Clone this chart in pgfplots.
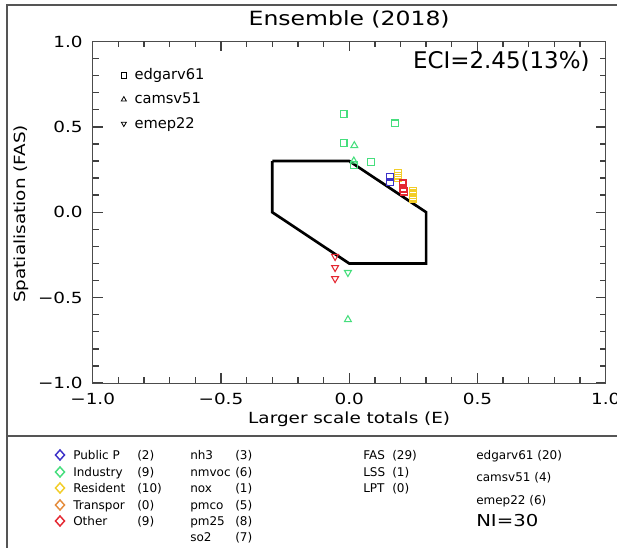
\documentclass[border=0pt]{standalone}
\usepackage{fontspec}
\setmainfont{DejaVu Sans}[FakeStretch=1.2]
\newfontfamily\plainfont{DejaVu Sans}
\usepackage{pgfplots}
\pgfplotsset{compat=1.18}
\definecolor{cgreen}{RGB}{70,222,125}
\definecolor{cblue}{RGB}{60,50,200}
\definecolor{cyellow}{RGB}{242,205,40}
\definecolor{corange}{RGB}{228,140,60}
\definecolor{cred}{RGB}{228,40,50}
\definecolor{frm}{RGB}{85,85,85}
\tikzset{tk/.style={draw=black!75, line width=1pt}}
\begin{document}
\begin{tikzpicture}
\path[use as bounding box] (0pt,0pt) rectangle (462.75pt,411pt);
\begin{axis}[
  at={(69.525pt,123.75pt)}, anchor=south west,
  scale only axis, width=384.75pt, height=256.125pt,
  xmin=-1, xmax=1, ymin=-1, ymax=1,
  xtick={-1,-0.5,0,0.5,1}, xticklabels={−1.0,−0.5,0.0,0.5,1.0},
  ytick={-1,-0.5,0,0.5,1}, yticklabels={−1.0,−0.5,0.0,0.5,1.0},
  minor tick num=4,
  xtick pos=both, ytick pos=both, tick align=inside,
  major tick length=7.5pt, minor tick length=4.5pt,
  tick style={black!75, line width=1pt},
  minor tick style={black!75, line width=1pt},
  axis line style={black!70, line width=0.6pt},
  tick label style={font=\fontsize{11.5}{13}\selectfont},
  xticklabel style={anchor=base, inner sep=0pt, yshift=-16.5pt},
  yticklabel style={anchor=east, inner sep=0pt, xshift=-7.3pt},
  title={Ensemble (2018)},
  title style={at={(0.5,1)}, anchor=base, yshift=6.2pt, font=\fontsize{14.7}{17}\selectfont},
  xlabel={Larger scale totals (E)},
  xlabel style={at={(axis description cs:0.5,-0.105)}, anchor=center, font=\fontsize{11.5}{13}\selectfont},
  ylabel={Spatialisation (FAS)},
  ylabel style={at={(axis description cs:-0.14,0.495)}, anchor=center, rotate=0, font=\fontsize{11.5}{13}\selectfont},
  legend style={draw=none, fill=none, at={(0.055,0.925)}, anchor=north west,
    font=\plainfont\fontsize{11}{13}\selectfont, row sep=6.5pt, inner sep=0pt,
    column sep=5pt, nodes={inner sep=1pt}},
  legend cell align=left,
  clip=false,
]
\addlegendimage{only marks, mark=square, black, mark size=2pt, mark options={line width=0.6pt}, legend image code/.code={\draw[only marks, mark=square, mark size=2pt, line width=0.6pt] plot coordinates {(0.1cm,0cm)};}}
\addlegendentry{edgarv61}
\addlegendimage{only marks, mark=triangle, black, legend image code/.code={\draw[only marks, mark=triangle, mark size=2.2pt, line width=0.6pt] plot coordinates {(0.1cm,0cm)};}}
\addlegendentry{camsv51}
\addlegendimage{only marks, mark=triangle, black, legend image code/.code={\draw[only marks, mark=triangle, mark size=2.2pt, line width=0.6pt, mark options={rotate=180}] plot coordinates {(0.1cm,0cm)};}}
\addlegendentry{emep22}
% tick marks drawn explicitly as well (minor every 0.1, major every 0.5)
\pgfplotsinvokeforeach{-0.9,-0.8,-0.7,-0.6,-0.4,-0.3,-0.2,-0.1,0.1,0.2,0.3,0.4,0.6,0.7,0.8,0.9}{
  \draw[tk] (axis cs:#1,-1) -- ++(0pt,4.5pt);
  \draw[tk] (axis cs:#1,1) -- ++(0pt,-4.5pt);
  \draw[tk] (axis cs:-1,#1) -- ++(4.5pt,0pt);
  \draw[tk] (axis cs:1,#1) -- ++(-4.5pt,0pt);
}
\pgfplotsinvokeforeach{-0.5,0,0.5}{
  \draw[tk] (axis cs:#1,-1) -- ++(0pt,7.5pt);
  \draw[tk] (axis cs:#1,1) -- ++(0pt,-7.5pt);
  \draw[tk] (axis cs:-1,#1) -- ++(7.5pt,0pt);
  \draw[tk] (axis cs:1,#1) -- ++(-7.5pt,0pt);
}
% Industry (green)
\addplot[only marks, mark=square, cgreen, mark size=2.6pt, mark options={line width=0.8pt}, forget plot]
  coordinates {(-0.022,0.574) (0.178,0.52) (-0.022,0.407) (0.085,0.296) (0.018,0.276)};
\addplot[only marks, mark=triangle, cgreen, mark size=3pt, mark options={line width=0.8pt}, forget plot]
  coordinates {(0.02,0.39) (0.018,0.30) (-0.005,-0.629)};
\addplot[only marks, mark=triangle, cgreen, mark size=3pt, mark options={line width=0.8pt, rotate=180}, forget plot]
  coordinates {(-0.005,-0.353)};
% Public Power (blue)
\addplot[only marks, mark=square, cblue, mark size=2.6pt, mark options={line width=0.8pt}, forget plot]
  coordinates {(0.158,0.209) (0.158,0.178)};
% Residential (yellow)
\addplot[only marks, mark=square, cyellow, mark size=2.6pt, mark options={line width=0.8pt}, forget plot]
  coordinates {(0.19,0.229) (0.19,0.20) (0.19,0.215) (0.25,0.126) (0.25,0.099) (0.25,0.079) (0.25,0.11) (0.25,0.09) (0.19,0.21) (0.25,0.085)};
% Other (red)
\addplot[only marks, mark=square, cred, mark size=2.6pt, mark options={line width=0.8pt}, forget plot]
  coordinates {(0.208,0.173) (0.21,0.134) (0.213,0.12) (0.208,0.165) (0.21,0.14) (0.212,0.125)};
\addplot[only marks, mark=triangle, cred, mark size=3pt, mark options={line width=0.8pt, rotate=180}, forget plot]
  coordinates {(-0.055,-0.259) (-0.055,-0.324) (-0.055,-0.389)};
% target polygon
\addplot[black, line width=2pt, line join=miter, no markers, forget plot]
  coordinates {(-0.3,0.3) (0,0.3) (0.3,0) (0.3,-0.3) (0,-0.3) (-0.3,0) (-0.3,0.3)};
\node[anchor=base east, inner sep=0pt, font=\plainfont\fontsize{17.2}{20}\selectfont]
  at (rel axis cs:0.969,0.9215) {ECI=2.45(13\%)};
\end{axis}
\begin{scope}[x=0.75pt,y=0.75pt]
% outer frame
\draw[frm, line width=1.5pt] (7,-5) -- (7,543) -- (617,543);
\draw[frm, line width=1.5pt] (7,112) -- (617,112);
% bottom legend panel
\tikzset{lg/.style={anchor=base west, inner sep=0pt, font=\plainfont\fontsize{9}{11}\selectfont}}
\foreach \yy/\cc/\nm/\nn in {455/cblue/Public P/(2), 472/cgreen/Industry/(9), 488/cyellow/Resident/(10), 505/corange/Transpor/(0), 521/cred/Other/(9)} {
  \draw[\cc, line width=1.1pt] (60,548-\yy+5) -- (64.5,548-\yy) -- (60,548-\yy-5) -- (55.5,548-\yy) -- cycle;
  \node[lg] at (73,548-\yy-4.5) {\nm};
  \node[lg] at (137,548-\yy-4.5) {\nn};
}
\foreach \yy/\nm/\nn in {455/nh3/(3), 472/nmvoc/(6), 488/nox/(1), 505/pmco/(5), 521/pm25/(8), 537/so2/(7)} {
  \node[lg] at (190,548-\yy-4.5) {\nm};
  \node[lg] at (235,548-\yy-4.5) {\nn};
}
\foreach \yy/\nm/\nn in {455/FAS/(29), 472/LSS/(1), 488/LPT/(0)} {
  \node[lg] at (363,548-\yy-4.5) {\nm};
  \node[lg] at (392,548-\yy-4.5) {\nn};
}
\foreach \yy/\nm in {455/edgarv61 (20), 477/camsv51 (4), 500/emep22 (6)} {
  \node[lg] at (476,548-\yy-4.5) {\nm};
}
\node[anchor=base west, inner sep=0pt, font=\fontsize{12.3}{14}\selectfont] at (476,548-521-6) {NI=30};
\end{scope}
\end{tikzpicture}
\end{document}
